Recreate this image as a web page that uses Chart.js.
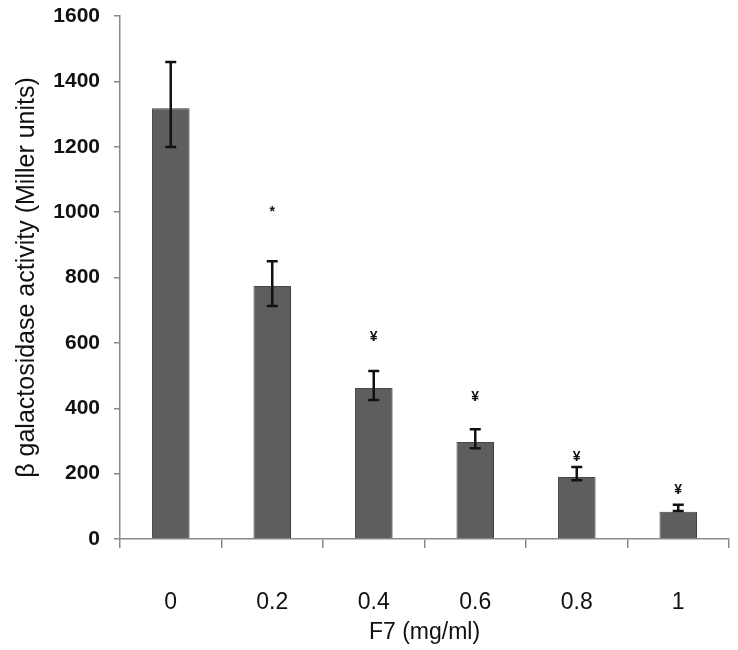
<!DOCTYPE html>
<html>
<head>
<meta charset="utf-8">
<script src="https://cdn.jsdelivr.net/npm/chart.js@4/dist/chart.umd.min.js"></script>
<style>
  html, body { margin: 0; padding: 0; background: #fff; }
  #wrap { width: 738px; height: 650px; }
</style>
</head>
<body>
<div id="wrap"><canvas id="galChart" width="738" height="650"></canvas></div>
<script>
// data
const doses = ["0", "0.2", "0.4", "0.6", "0.8", "1"];
const activity = [1318, 774, 462, 297, 190, 83];
const errUp = [1459, 850, 514, 336, 220, 105];
const errDown = [1199, 713, 425, 278, 180, 86];
const marks = ["", "*", "\u00a5", "\u00a5", "\u00a5", "\u00a5"];
const markAt = [0, 1000, 618, 434, 251, 150];
const yTicks = [0, 200, 400, 600, 800, 1000, 1200, 1400, 1600];

const fontFam = "'Liberation Sans', Arial, sans-serif";

// soft shadow behind the bars
const barShadow = {
    id: "barShadow",
    beforeDatasetsDraw(chart) {
        const ctx = chart.ctx;
        ctx.save();
        ctx.shadowColor = "rgba(0,0,0,0.18)";
        ctx.shadowBlur = 3;
        ctx.shadowOffsetX = 3;
        ctx.shadowOffsetY = 0;
    },
    afterDatasetsDraw(chart) {
        chart.ctx.restore();
    }
};

// error bars and significance marks
const errorBars = {
    id: "errorBars",
    afterDatasetsDraw(chart) {
        const ctx = chart.ctx;
        const x = chart.scales.x;
        const y = chart.scales.y;
        ctx.save();
        ctx.strokeStyle = "#111";
        ctx.lineWidth = 2.5;
        doses.forEach(function (d, i) {
            const cx = x.getPixelForValue(i);
            const t = y.getPixelForValue(errUp[i]);
            const b = y.getPixelForValue(errDown[i]);
            ctx.beginPath();
            ctx.moveTo(cx, t); ctx.lineTo(cx, b);
            ctx.moveTo(cx - 5.5, t); ctx.lineTo(cx + 5.5, t);
            ctx.moveTo(cx - 5.5, b); ctx.lineTo(cx + 5.5, b);
            ctx.stroke();
            if (marks[i]) {
                ctx.fillStyle = "#111";
                ctx.font = "bold 14px " + fontFam;
                ctx.textAlign = "center";
                ctx.textBaseline = "middle";
                ctx.fillText(marks[i], cx, y.getPixelForValue(markAt[i]));
            }
        });
        ctx.restore();
    }
};

const ctx = document.getElementById("galChart").getContext("2d");
window.galChart = new Chart(ctx, {
    type: "bar",
    data: {
        labels: doses,
        datasets: [{
            label: "Activity",
            data: activity,
            backgroundColor: "#5e5e5e",
            borderColor: "#4a4a4a",
            borderWidth: 1,
            categoryPercentage: 1,
            barPercentage: 0.37,
        }],
    },
    options: {
        responsive: false,
        animation: false,
        layout: { padding: { top: 0, right: 9, bottom: 0, left: 0 } },
        plugins: {
            legend: { display: false },
            tooltip: { enabled: false },
        },
        scales: {
            y: {
                min: 0,
                max: 1600,
                afterBuildTicks: function (axis) {
                    axis.ticks = yTicks.map(function (v) { return { value: v }; });
                },
                afterFit: function (axis) {
                    axis.width = 120;
                    axis.paddingTop = 16;
                    axis.paddingBottom = 0;
                },
                border: { color: "#8a8a8a", width: 1.5 },
                grid: { display: true, drawOnChartArea: false, tickLength: 6, color: "#8a8a8a", lineWidth: 1.5 },
                ticks: {
                    color: "#111",
                    padding: 14,
                    callback: function (v) { return String(v); },
                    font: { family: fontFam, size: 21, weight: "bold" },
                },
                title: {
                    display: true,
                    text: "\u03b2 galactosidase activity (Miller units)",
                    color: "#111",
                    padding: { top: 12, bottom: 0 },
                    font: { family: fontFam, size: 25 },
                },
            },
            x: {
                afterFit: function (axis) { axis.height = 111; },
                border: { color: "#8a8a8a", width: 1.5 },
                grid: { display: true, offset: true, drawOnChartArea: false, tickLength: 9, color: "#8a8a8a", lineWidth: 1.5 },
                ticks: {
                    color: "#111",
                    padding: 41,
                    font: { family: fontFam, size: 23 },
                },
                title: {
                    display: true,
                    text: "F7 (mg/ml)",
                    color: "#111",
                    padding: { top: 0, bottom: 4 },
                    font: { family: fontFam, size: 23 },
                },
            },
        },
    },
    plugins: [barShadow, errorBars],
});
</script>
</body>
</html>
